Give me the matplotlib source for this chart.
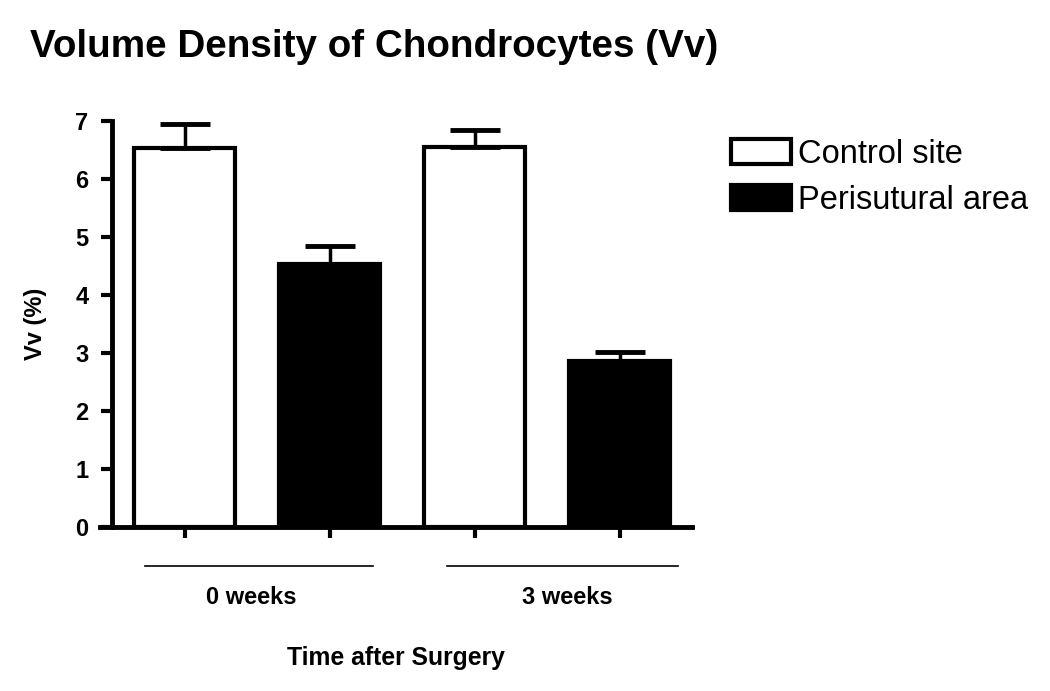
import numpy as np
import matplotlib
matplotlib.use("Agg")
import matplotlib.pyplot as plt
import matplotlib.transforms as mtransforms

plt.rcParams['font.family'] = ['Liberation Sans', 'DejaVu Sans']

# data
groups = ["0 weeks", "3 weeks"]
series = ["Control site", "Perisutural area"]
control_vals = [6.54, 6.55]
control_err = [0.40, 0.30]
peri_vals = [4.53, 2.87]
peri_err = [0.31, 0.14]
yticks = [0, 1, 2, 3, 4, 5, 6, 7]

fig = plt.figure(figsize=(10.5, 6.91), dpi=100)
ax = fig.add_axes([112 / 1050, 1 - 527 / 691, 580 / 1050, 406 / 691])

# bar positions: control/peri alternate within each group
n = len(groups)
x_ctrl = np.arange(n) * 2
x_peri = x_ctrl + 1
width = 0.69

b1 = ax.bar(x_ctrl, control_vals, width, color='white', edgecolor='black', linewidth=3, label=series[0])
b2 = ax.bar(x_peri, peri_vals, width, color='black', edgecolor='black', linewidth=3, label=series[1])

# upper error bars only
for xs, vs, es in [(x_ctrl, control_vals, control_err), (x_peri, peri_vals, peri_err)]:
    ax.errorbar(xs, vs, yerr=[np.zeros(n), es], fmt='none', ecolor='black',
                elinewidth=2.5, capsize=18, capthick=3.5, zorder=1)

ax.set_xlim(-0.5, 3.5)
ax.set_ylim(0, 7)
ax.set_yticks(yticks)
ax.set_xticks(np.concatenate([x_ctrl, x_peri]))
ax.set_xticklabels([])

for s in ['top', 'right']:
    ax.spines[s].set_visible(False)
ax.spines['left'].set_linewidth(3.5)
ax.spines['bottom'].set_linewidth(3.5)
ax.spines['left'].set_bounds(0, 7)
ax.spines['bottom'].set_bounds(-0.58, 3.5)
ax.tick_params(axis='both', width=3, length=8, direction='out')
ax.tick_params(axis='y', labelsize=17, pad=9)
for lab in ax.get_yticklabels():
    lab.set_fontweight('bold')

# group lines and labels below the axis
trans = mtransforms.blended_transform_factory(ax.transData, ax.transAxes)
group_spans = [(-0.27, 1.30), (1.81, 3.40)]
group_label_x = [0.46, 2.64]
for (a, b), gx, g in zip(group_spans, group_label_x, groups):
    ax.plot([a, b], [-0.096, -0.096], transform=trans, clip_on=False, color='black', lw=1.2)
    ax.text(gx, -0.19, g, transform=trans, ha='center', va='baseline',
            fontsize=17, fontweight='bold')

ax.text(1.46, -0.34, "Time after Surgery", transform=trans, ha='center', va='baseline',
        fontsize=17.8, fontweight='bold')

ax.set_ylabel("Vv (%)", fontsize=17, fontweight='bold', labelpad=20)

fig.text(30 / 1050, 1 - 57 / 691, "Volume Density of Chondrocytes (Vv)",
         fontsize=27.8, fontweight='bold', ha='left', va='baseline')

ax.legend(handles=[b1, b2], loc='upper left', bbox_to_anchor=(731 / 1050, 1 - 139 / 691),
          bbox_transform=fig.transFigure, frameon=False, fontsize=23.5,
          handlelength=1.84, handleheight=0.8, handletextpad=0.2,
          labelspacing=0.46, borderpad=0, borderaxespad=0)

fig.savefig("out.png", dpi=100)
